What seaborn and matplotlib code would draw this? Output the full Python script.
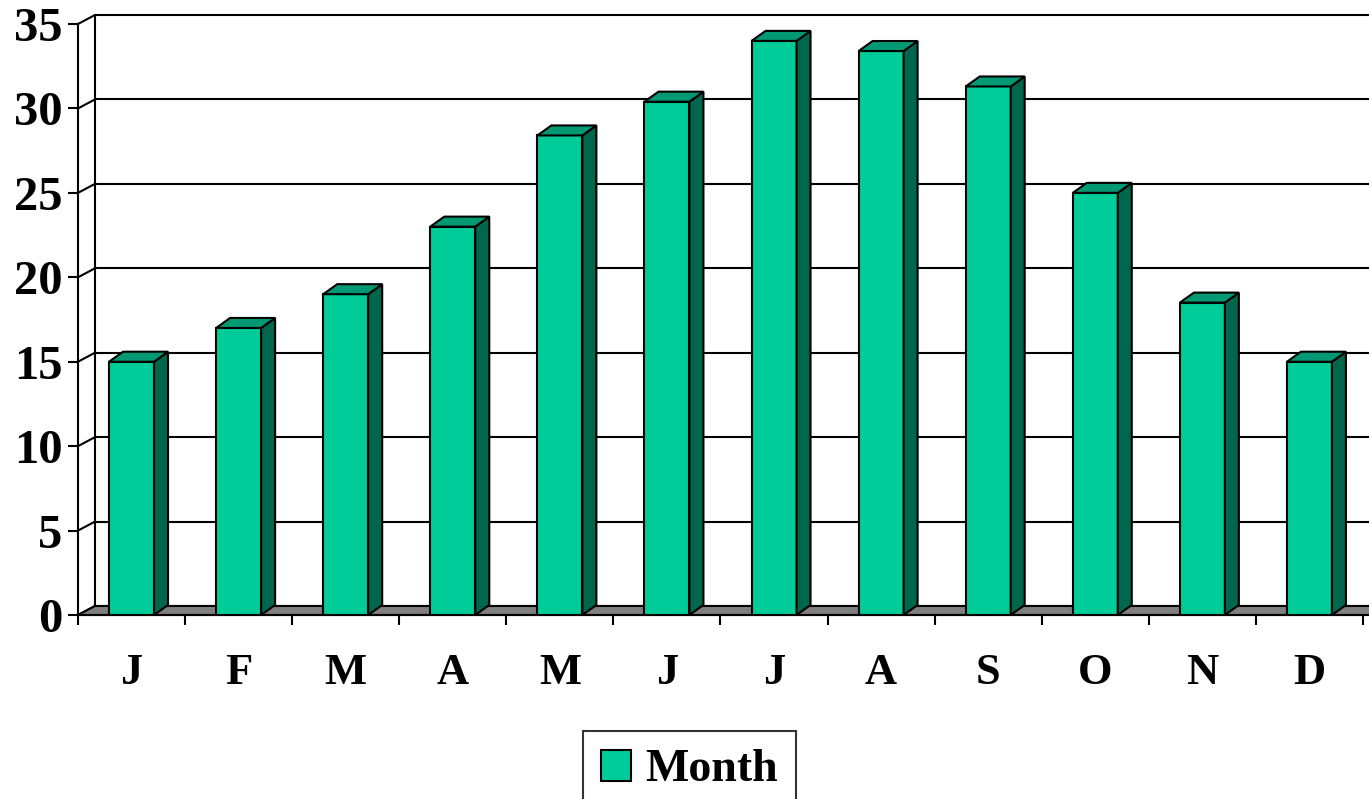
import numpy as np
import pandas as pd
import matplotlib
matplotlib.use('Agg')
import matplotlib.pyplot as plt
from matplotlib.patches import Polygon, Patch
import seaborn as sns

# data
months = ['J', 'F', 'M', 'A', 'M', 'J', 'J', 'A', 'S', 'O', 'N', 'D']
values = [15, 17, 19, 23, 28.4, 30.4, 34, 33.4, 31.3, 25, 18.5, 15]
yticks = [0, 5, 10, 15, 20, 25, 30, 35]
series_name = 'Month'

front = '#00CC99'
side = '#00664C'
top = '#009973'
floor = '#808080'

sns.set_style('white')
plt.rcParams['font.family'] = ['Liberation Serif', 'DejaVu Serif']
plt.rcParams['font.weight'] = 'bold'
plt.rcParams['text.color'] = 'black'
plt.rcParams['xtick.color'] = 'black'
plt.rcParams['ytick.color'] = 'black'
plt.rcParams['axes.edgecolor'] = 'black'

df = pd.DataFrame({'pos': np.arange(len(months)), 'value': values})

fig = plt.figure(figsize=(13.69, 7.99), dpi=100)
ax = fig.add_axes([78/1369, 184/799, (1363-78)/1369, 591/799])

sns.barplot(data=df, x='pos', y='value', color=front, width=0.42,
            edgecolor='black', linewidth=1.5, saturation=1, ax=ax, zorder=3)

ax.set_xlim(-0.5, len(months) - 0.5)
ax.set_ylim(0, 35)

# depth offsets (data units)
px_x = (1363 - 78) / len(months)
px_y = 591 / 35
wdx, wdy = 17 / px_x, 9 / px_y
bdx, bdy = 14 / px_x, 10 / px_y
x0, x1 = -0.5, len(months) - 0.5

# back wall grid, left wall, floor
for y in yticks:
    ax.plot([x0 + wdx, x1 + 1], [y + wdy, y + wdy], color='black', lw=1.5,
            clip_on=False, zorder=0)
    ax.plot([x0, x0 + wdx], [y, y + wdy], color='black', lw=1.5,
            clip_on=False, zorder=0)
ax.plot([x0 + wdx, x0 + wdx], [wdy, 35 + wdy], color='black', lw=1.5,
        clip_on=False, zorder=0)
ax.add_patch(Polygon([(x0, 0), (x1 + 1, 0), (x1 + 1, wdy), (x0 + wdx, wdy)],
                     closed=True, facecolor=floor, edgecolor='black', lw=1.5,
                     clip_on=False, zorder=1))

# 3d faces of bars
for p in list(ax.patches)[:len(months)]:
    bx, w, h = p.get_x(), p.get_width(), p.get_height()
    ax.add_patch(Polygon([(bx + w, 0), (bx + w + bdx, bdy), (bx + w + bdx, h + bdy), (bx + w, h)],
                         closed=True, facecolor=side, edgecolor='black', lw=1.5,
                         clip_on=False, zorder=3))
    ax.add_patch(Polygon([(bx, h), (bx + bdx, h + bdy), (bx + w + bdx, h + bdy), (bx + w, h)],
                         closed=True, facecolor=top, edgecolor='black', lw=1.5,
                         clip_on=False, zorder=3))

for s in ['top', 'right']:
    ax.spines[s].set_visible(False)
ax.spines['left'].set_linewidth(1.5)
ax.spines['bottom'].set_linewidth(1.5)
ax.spines['left'].set_zorder(4)
ax.set_facecolor('none')

ax.set_yticks(yticks)
ax.set_yticklabels([str(t) for t in yticks], fontsize=35, fontweight='bold', color='black')
ax.tick_params(axis='y', direction='out', length=7.2, width=1.5, pad=4, left=True)

ax.set_xticks(np.arange(len(months)))
ax.set_xticklabels(months, fontsize=32, fontweight='bold', color='black')
ax.set_xticks(np.arange(len(months) + 1) - 0.5, minor=True)
ax.tick_params(axis='x', which='major', length=0, pad=27)
ax.tick_params(axis='x', which='minor', direction='out', length=7.2, width=1.5, bottom=True)
ax.set_xlabel('')
ax.set_ylabel('')

leg = fig.legend(handles=[Patch(facecolor=front, edgecolor='black', lw=1.5, label=series_name)],
                 loc='upper left', bbox_to_anchor=(583/1369, 1 - 731/799),
                 prop={'family': 'Liberation Serif', 'weight': 'bold', 'size': 33},
                 frameon=True, fancybox=False, shadow=False,
                 handlelength=0.65, handleheight=0.65, handletextpad=0.3,
                 borderpad=0.4, borderaxespad=0)
leg.get_frame().set_edgecolor('black')
leg.get_frame().set_linewidth(1.5)
for t in leg.get_texts():
    t.set_color('black')

fig.savefig('out.png', dpi=100)
